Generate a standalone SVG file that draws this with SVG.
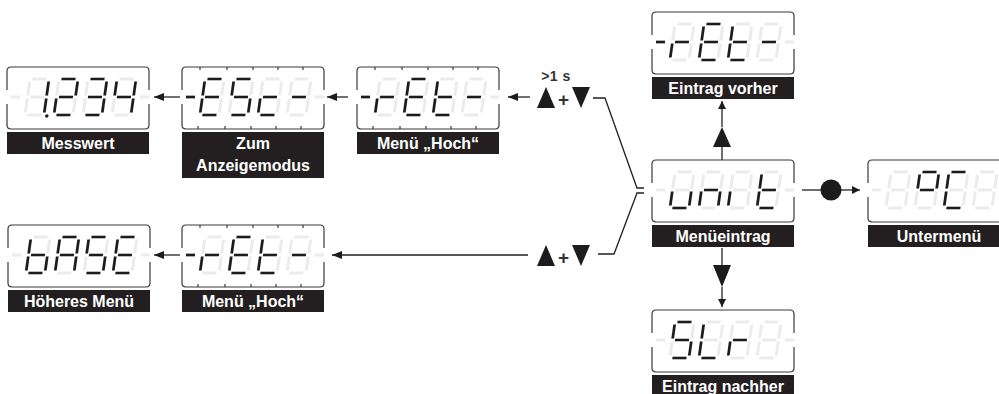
<svg xmlns="http://www.w3.org/2000/svg" width="999" height="394" viewBox="0 0 999 394">
<defs>
<style>
.off{fill:none;stroke:#ebebeb;stroke-width:3}
.on{fill:none;stroke:#1c1c1c;stroke-width:2.7}
.dp{fill:#1c1c1c}
.fr{fill:none;stroke:#3a3a3a;stroke-width:1.2}
.lb{fill:#231f20}
.lt{fill:#fff;font-family:"Liberation Sans",Arial,sans-serif;font-weight:bold;font-size:16px;text-anchor:middle}
.cn{fill:none;stroke:#222;stroke-width:1.3}
.tri{fill:#1c1c1c}
.sm{fill:#333;font-family:"Liberation Sans",Arial,sans-serif;font-weight:bold}
</style>
<path id="frame" d="M0,23V4Q0,0 4,0H138Q142,0 142,4V23M142,37V58Q142,62 138,62H4Q0,62 0,58V37"/>
<path id="ticks" d="M18,0v3M45,0v3M71,0v3M96,0v3M121,0v3M16,59v3M43,59v3M69,59v3M94,59v3M119,59v3"/>
<path id="dl" d="M4,30H13"/>
<path id="dr" d="M133,30H142"/>
<path id="sa" d="M2.5,0H16.5"/>
<path id="sb" d="M19,2.5V16.5"/>
<path id="sc" d="M19,19.5V33.5"/>
<path id="sd" d="M2.5,36H16.5"/>
<path id="se" d="M0,19.5V33.5"/>
<path id="sf" d="M0,2.5V16.5"/>
<path id="sg" d="M2.5,18H16.5"/>
<g id="d8"><use href="#sa"/><use href="#sb"/><use href="#sc"/><use href="#sd"/><use href="#se"/><use href="#sf"/><use href="#sg"/></g>
<marker id="arr" viewBox="0 0 10 8" refX="10" refY="4" markerWidth="10" markerHeight="8" orient="auto" markerUnits="userSpaceOnUse"><path d="M0,0L10,4L0,8z" fill="#1c1c1c"/></marker>
<marker id="arrs" viewBox="0 0 8 8" refX="8" refY="4" markerWidth="8" markerHeight="8" orient="auto" markerUnits="userSpaceOnUse"><path d="M0,0L8,4L0,8z" fill="#1c1c1c"/></marker>
</defs>
<rect width="999" height="394" fill="#fff"/>

<g id="connectors">
<path class="cn" d="M180,97H154" marker-end="url(#arr)"/>
<path class="cn" d="M348,97H327" marker-end="url(#arr)"/>
<path class="cn" d="M530,97H508" marker-end="url(#arr)"/>
<path class="cn" d="M528,255H332" marker-end="url(#arr)"/>
<path class="cn" d="M180,255H154" marker-end="url(#arr)"/>
<path class="cn" d="M593,98H605L637,188H644"/>
<path class="cn" d="M598,254H614L637,193H644"/>
<path class="cn" d="M802,190H822"/>
<circle cx="831" cy="190" r="10.5" fill="#1c1c1c"/>
<path class="cn" d="M841,190H860" marker-end="url(#arrs)"/>
<path class="cn" d="M722,160V147"/>
<polygon class="tri" points="713,147 731,147 722,127"/>
<path class="cn" d="M722,127V101" marker-end="url(#arrs)"/>
<path class="cn" d="M722,248V265"/>
<polygon class="tri" points="713,265 731,265 722,287"/>
<path class="cn" d="M722,287V307" marker-end="url(#arrs)"/>
<g id="keys-top">
<polygon class="tri" points="537,108 555,108 546,87"/>
<polygon class="tri" points="572,87 590,87 581,108"/>
<text class="sm" x="563.5" y="106" font-size="19" text-anchor="middle">+</text>
<text class="sm" x="556" y="81" font-size="14" text-anchor="middle" letter-spacing="0.5">&gt;1 s</text>
</g>
<g id="keys-bottom">
<polygon class="tri" points="537,266 555,266 546,245"/>
<polygon class="tri" points="572,245 590,245 581,266"/>
<text class="sm" x="563.5" y="264" font-size="19" text-anchor="middle">+</text>
</g>
</g>

<g id="n-messwert" transform="translate(7,67)">
<use href="#frame" class="fr"/>
<use href="#dl" class="off"/><use href="#dr" class="off"/>
<g transform="translate(23,12) skewX(-8)"><use href="#d8" class="off"/><g class="on"><use href="#sb"/><use href="#sc"/></g><circle class="dp" cx="22" cy="37" r="1.8"/></g>
<g transform="translate(52,12) skewX(-8)"><use href="#d8" class="off"/><g class="on"><use href="#sa"/><use href="#sb"/><use href="#sg"/><use href="#se"/><use href="#sd"/></g></g>
<g transform="translate(81,12) skewX(-8)"><use href="#d8" class="off"/><g class="on"><use href="#sa"/><use href="#sb"/><use href="#sg"/><use href="#sc"/><use href="#sd"/></g></g>
<g transform="translate(110,12) skewX(-8)"><use href="#d8" class="off"/><g class="on"><use href="#sf"/><use href="#sg"/><use href="#sb"/><use href="#sc"/></g></g>
<rect class="lb" x="0" y="65" width="142" height="22"/>
<text class="lt" x="71" y="82">Messwert</text>
</g>

<g id="n-esc" transform="translate(182,67)">
<use href="#frame" class="fr"/><use href="#ticks" class="fr"/>
<use href="#dl" class="on"/><use href="#dr" class="off"/>
<g transform="translate(23,12) skewX(-8)"><use href="#d8" class="off"/><g class="on"><use href="#sa"/><use href="#sf"/><use href="#sg"/><use href="#se"/><use href="#sd"/></g></g>
<g transform="translate(52,12) skewX(-8)"><use href="#d8" class="off"/><g class="on"><use href="#sa"/><use href="#sf"/><use href="#sg"/><use href="#sc"/><use href="#sd"/></g></g>
<g transform="translate(81,12) skewX(-8)"><use href="#d8" class="off"/><g class="on"><use href="#sg"/><use href="#se"/><use href="#sd"/></g></g>
<g transform="translate(110,12) skewX(-8)"><use href="#d8" class="off"/><g class="on"><use href="#sg"/></g></g>
<rect class="lb" x="0" y="65" width="142" height="46"/>
<text class="lt" x="71" y="82">Zum</text>
<text class="lt" x="71" y="104">Anzeigemodus</text>
</g>

<g id="n-ret-top" transform="translate(357,67)">
<use href="#frame" class="fr"/><use href="#ticks" class="fr"/>
<use href="#dl" class="on"/><use href="#dr" class="off"/>
<g transform="translate(23,12) skewX(-8)"><use href="#d8" class="off"/><g class="on"><use href="#se"/><use href="#sg"/></g></g>
<g transform="translate(52,12) skewX(-8)"><use href="#d8" class="off"/><g class="on"><use href="#sa"/><use href="#sf"/><use href="#sg"/><use href="#se"/><use href="#sd"/></g></g>
<g transform="translate(81,12) skewX(-8)"><use href="#d8" class="off"/><g class="on"><use href="#sf"/><use href="#sg"/><use href="#se"/><use href="#sd"/></g></g>
<g transform="translate(110,12) skewX(-8)"><use href="#d8" class="off"/><g class="on"><use href="#sg"/></g></g>
<rect class="lb" x="0" y="65" width="142" height="22"/>
<text class="lt" x="71" y="82">Menü „Hoch“</text>
</g>

<g id="n-base" transform="translate(8,225)">
<use href="#frame" class="fr"/>
<use href="#dl" class="off"/><use href="#dr" class="off"/>
<g transform="translate(23,12) skewX(-8)"><use href="#d8" class="off"/><g class="on"><use href="#sf"/><use href="#se"/><use href="#sd"/><use href="#sc"/><use href="#sg"/></g></g>
<g transform="translate(52,12) skewX(-8)"><use href="#d8" class="off"/><g class="on"><use href="#sa"/><use href="#sb"/><use href="#sc"/><use href="#se"/><use href="#sf"/><use href="#sg"/></g></g>
<g transform="translate(81,12) skewX(-8)"><use href="#d8" class="off"/><g class="on"><use href="#sa"/><use href="#sf"/><use href="#sg"/><use href="#sc"/><use href="#sd"/></g></g>
<g transform="translate(110,12) skewX(-8)"><use href="#d8" class="off"/><g class="on"><use href="#sa"/><use href="#sf"/><use href="#sg"/><use href="#se"/><use href="#sd"/></g></g>
<rect class="lb" x="0" y="65" width="142" height="22"/>
<text class="lt" x="71" y="82">Höheres Menü</text>
</g>

<g id="n-ret-bottom" transform="translate(182,225)">
<use href="#frame" class="fr"/><use href="#ticks" class="fr"/>
<use href="#dl" class="on"/><use href="#dr" class="off"/>
<g transform="translate(23,12) skewX(-8)"><use href="#d8" class="off"/><g class="on"><use href="#se"/><use href="#sg"/></g></g>
<g transform="translate(52,12) skewX(-8)"><use href="#d8" class="off"/><g class="on"><use href="#sa"/><use href="#sf"/><use href="#sg"/><use href="#se"/><use href="#sd"/></g></g>
<g transform="translate(81,12) skewX(-8)"><use href="#d8" class="off"/><g class="on"><use href="#sf"/><use href="#sg"/><use href="#se"/><use href="#sd"/></g></g>
<g transform="translate(110,12) skewX(-8)"><use href="#d8" class="off"/><g class="on"><use href="#sg"/></g></g>
<rect class="lb" x="0" y="65" width="142" height="22"/>
<text class="lt" x="71" y="82">Menü „Hoch“</text>
</g>

<g id="n-prev" transform="translate(652,12)">
<use href="#frame" class="fr"/>
<use href="#dl" class="on"/><use href="#dr" class="off"/>
<g transform="translate(23,12) skewX(-8)"><use href="#d8" class="off"/><g class="on"><use href="#se"/><use href="#sg"/></g></g>
<g transform="translate(52,12) skewX(-8)"><use href="#d8" class="off"/><g class="on"><use href="#sa"/><use href="#sf"/><use href="#sg"/><use href="#se"/><use href="#sd"/></g></g>
<g transform="translate(81,12) skewX(-8)"><use href="#d8" class="off"/><g class="on"><use href="#sf"/><use href="#sg"/><use href="#se"/><use href="#sd"/></g></g>
<g transform="translate(110,12) skewX(-8)"><use href="#d8" class="off"/><g class="on"><use href="#sg"/></g></g>
<rect class="lb" x="0" y="65" width="142" height="22"/>
<text class="lt" x="71" y="82">Eintrag vorher</text>
</g>

<g id="n-unit" transform="translate(652,160)">
<use href="#frame" class="fr"/>
<use href="#dl" class="off"/><use href="#dr" class="off"/>
<g transform="translate(23,12) skewX(-8)"><use href="#d8" class="off"/><g class="on"><use href="#se"/><use href="#sd"/><use href="#sc"/></g></g>
<g transform="translate(52,12) skewX(-8)"><use href="#d8" class="off"/><g class="on"><use href="#se"/><use href="#sg"/><use href="#sc"/></g></g>
<g transform="translate(81,12) skewX(-8)"><use href="#d8" class="off"/><g class="on"><use href="#se"/></g></g>
<g transform="translate(110,12) skewX(-8)"><use href="#d8" class="off"/><g class="on"><use href="#sf"/><use href="#sg"/><use href="#se"/><use href="#sd"/></g></g>
<rect class="lb" x="0" y="65" width="142" height="22"/>
<text class="lt" x="71" y="82">Menüeintrag</text>
</g>

<g id="n-sub" transform="translate(868,160)">
<use href="#frame" class="fr"/>
<use href="#dl" class="off"/><use href="#dr" class="off"/>
<g transform="translate(23,12) skewX(-8)"><use href="#d8" class="off"/></g>
<g transform="translate(52,12) skewX(-8)"><use href="#d8" class="off"/><g class="on"><use href="#sa"/><use href="#sb"/><use href="#sg"/><use href="#sf"/></g></g>
<g transform="translate(81,12) skewX(-8)"><use href="#d8" class="off"/><g class="on"><use href="#sa"/><use href="#sf"/><use href="#se"/><use href="#sd"/></g></g>
<g transform="translate(110,12) skewX(-8)"><use href="#d8" class="off"/></g>
<rect class="lb" x="0" y="65" width="142" height="22"/>
<text class="lt" x="71" y="82">Untermenü</text>
</g>

<g id="n-next" transform="translate(652,310)">
<use href="#frame" class="fr"/>
<use href="#dl" class="off"/><use href="#dr" class="off"/>
<g transform="translate(23,12) skewX(-8)"><use href="#d8" class="off"/><g class="on"><use href="#sa"/><use href="#sf"/><use href="#sg"/><use href="#sc"/><use href="#sd"/></g></g>
<g transform="translate(52,12) skewX(-8)"><use href="#d8" class="off"/><g class="on"><use href="#sf"/><use href="#se"/><use href="#sd"/></g></g>
<g transform="translate(81,12) skewX(-8)"><use href="#d8" class="off"/><g class="on"><use href="#se"/><use href="#sg"/></g></g>
<g transform="translate(110,12) skewX(-8)"><use href="#d8" class="off"/></g>
<rect class="lb" x="0" y="65" width="142" height="22"/>
<text class="lt" x="71" y="82">Eintrag nachher</text>
</g>
</svg>
